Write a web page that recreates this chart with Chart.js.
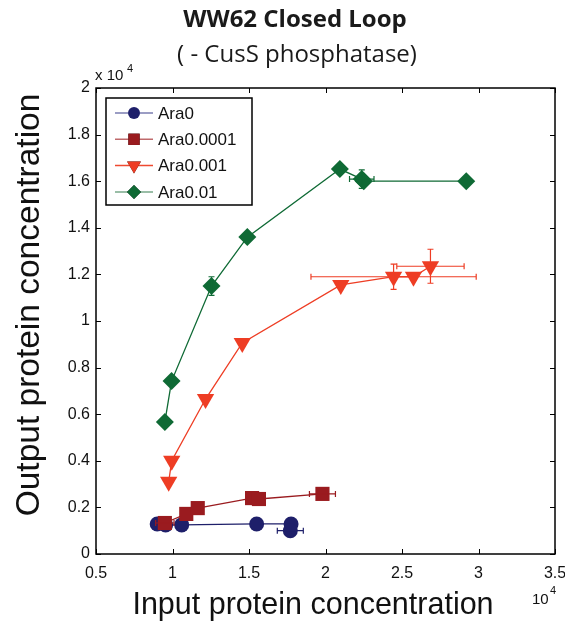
<!DOCTYPE html>
<html>
<head>
<meta charset="utf-8">
<script src="https://cdn.jsdelivr.net/npm/chart.js@4"></script>
<style>
  html, body { margin: 0; padding: 0; background: #fff; }
  #wrap { width: 565px; height: 629px; }
</style>
</head>
<body>
<div id="wrap"><canvas id="my-chart" width="565" height="629"></canvas></div>
<script>
// values in units of 10^4 (as shown on the axes)
const seriesNames = ['Ara0', 'Ara0.0001', 'Ara0.001', 'Ara0.01'];

const ara0X = [0.90, 0.955, 1.06, 1.55, 1.775, 1.77];
const ara0Y = [0.129, 0.125, 0.125, 0.129, 0.129, 0.10];
const ara0XErr = [0, 0, 0, 0, 0, 0.085];
const ara0YErr = [0, 0, 0, 0, 0, 0];

const ara00001X = [0.95, 1.09, 1.165, 1.52, 1.565, 1.98];
const ara00001Y = [0.133, 0.172, 0.197, 0.240, 0.236, 0.258];
const ara00001XErr = [0.06, 0, 0, 0, 0, 0.085];
const ara00001YErr = [0, 0, 0, 0, 0, 0];

const ara0001X = [0.975, 0.995, 1.216, 1.456, 2.10, 2.445, 2.575, 2.686];
const ara0001Y = [0.31, 0.40, 0.665, 0.906, 1.155, 1.19, 1.19, 1.235];
const ara0001XErr = [0, 0, 0, 0, 0, 0.54, 0, 0.22];
const ara0001YErr = [0, 0, 0, 0, 0, 0.054, 0, 0.073];

const ara001X = [0.95, 0.994, 1.255, 1.489, 2.094, 2.237, 2.25, 2.92];
const ara001Y = [0.567, 0.742, 1.150, 1.360, 1.652, 1.609, 1.60, 1.60];
const ara001XErr = [0, 0, 0, 0, 0, 0.08, 0, 0];
const ara001YErr = [0, 0, 0.04, 0, 0, 0.04, 0, 0];

const xTicks = [0.5, 1, 1.5, 2, 2.5, 3, 3.5];
const yTicks = [0, 0.2, 0.4, 0.6, 0.8, 1, 1.2, 1.4, 1.6, 1.8, 2];

const toPoints = (xs, ys) => xs.map((x, i) => ({ x: x, y: ys[i] }));

const FONT = '"Liberation Sans", Arial, sans-serif';
const TITLE_FONT = '"Open Sans", Lato, sans-serif';

// draw text centred at (cx, cy), font size picked so it is `width` wide
const fitText = (ctx, text, cx, cy, width, weight) => {
  ctx.font = weight + ' 20px ' + TITLE_FONT;
  const size = 20 * width / ctx.measureText(text).width;
  ctx.font = weight + ' ' + size.toFixed(1) + 'px ' + TITLE_FONT;
  ctx.fillText(text, cx, cy);
};

// draw the frame, inward ticks, error bars, legend and texts
const decorations = {
  id: 'decorations',
  afterDatasetsDraw(chart) {
    const ctx = chart.ctx;
    const xs = chart.scales.x;
    const ys = chart.scales.y;
    const a = chart.chartArea;

    // error bars
    chart.data.datasets.forEach(ds => {
      ctx.save();
      ctx.strokeStyle = ds.borderColor;
      ctx.lineWidth = 1.2;
      ds.data.forEach((p, i) => {
        const px = xs.getPixelForValue(p.x);
        const py = ys.getPixelForValue(p.y);
        const ex = ds.xErr[i];
        const ey = ds.yErr[i];
        ctx.beginPath();
        if (ex) {
          const l = xs.getPixelForValue(p.x - ex);
          const r = xs.getPixelForValue(p.x + ex);
          ctx.moveTo(l, py); ctx.lineTo(r, py);
          ctx.moveTo(l, py - 3); ctx.lineTo(l, py + 3);
          ctx.moveTo(r, py - 3); ctx.lineTo(r, py + 3);
        }
        if (ey) {
          const t = ys.getPixelForValue(p.y + ey);
          const b = ys.getPixelForValue(p.y - ey);
          ctx.moveTo(px, t); ctx.lineTo(px, b);
          ctx.moveTo(px - 3, t); ctx.lineTo(px + 3, t);
          ctx.moveTo(px - 3, b); ctx.lineTo(px + 3, b);
        }
        ctx.stroke();
      });
      ctx.restore();
    });

    ctx.save();
    // frame
    ctx.strokeStyle = '#000';
    ctx.lineWidth = 1.5;
    ctx.strokeRect(a.left, a.top, a.right - a.left, a.bottom - a.top);

    // inward ticks on all four sides
    ctx.lineWidth = 1;
    ctx.beginPath();
    xTicks.forEach(v => {
      const px = Math.round(xs.getPixelForValue(v)) + 0.5;
      ctx.moveTo(px, a.bottom); ctx.lineTo(px, a.bottom - 5);
      ctx.moveTo(px, a.top); ctx.lineTo(px, a.top + 5);
    });
    yTicks.forEach(v => {
      const py = Math.round(ys.getPixelForValue(v)) + 0.5;
      ctx.moveTo(a.left, py); ctx.lineTo(a.left + 5, py);
      ctx.moveTo(a.right, py); ctx.lineTo(a.right - 5, py);
    });
    ctx.stroke();

    // legend box
    const lx = 106, ly = 98, lw = 146, lh = 107;
    ctx.fillStyle = '#fff';
    ctx.fillRect(lx, ly, lw, lh);
    ctx.lineWidth = 1.5;
    ctx.strokeStyle = '#000';
    ctx.strokeRect(lx, ly, lw, lh);
    chart.data.datasets.forEach((ds, i) => {
      const yy = ly + 15 + i * 26.3;
      ctx.strokeStyle = ds.legendLine;
      ctx.lineWidth = 1.5;
      ctx.beginPath();
      ctx.moveTo(lx + 9, yy); ctx.lineTo(lx + 47, yy);
      ctx.stroke();
      Chart.helpers.drawPoint(ctx, {
        pointStyle: ds.pointStyle,
        rotation: ds.rotation || 0,
        radius: ds.legendRadius,
        borderWidth: 0
      }, lx + 28, yy);
      ctx.fillStyle = ds.backgroundColor;
      ctx.fill();
      ctx.fillStyle = '#111';
      ctx.font = '17px ' + FONT;
      ctx.textAlign = 'left';
      ctx.textBaseline = 'middle';
      ctx.fillText(ds.label, lx + 52, yy + 1);
    });

    // titles
    ctx.fillStyle = '#1a1a1a';
    ctx.textAlign = 'center';
    ctx.textBaseline = 'middle';
    fitText(ctx, 'WW62 Closed Loop', 295, 20, 224, 'bold');
    fitText(ctx, '( - CusS phosphatase)', 297, 55, 240, 'normal');

    // axis titles
    ctx.fillStyle = '#111';
    ctx.font = '30.5px ' + FONT;
    ctx.fillText('Input protein concentration', 313, 606);
    ctx.save();
    ctx.translate(30, 305);
    ctx.rotate(-Math.PI / 2);
    ctx.font = '33.5px ' + FONT;
    ctx.fillText('Output protein concentration', 0, 0);
    ctx.restore();

    // exponent labels
    ctx.textAlign = 'left';
    ctx.font = '15px ' + FONT;
    ctx.fillText('x 10', 95, 76);
    ctx.font = '11px ' + FONT;
    ctx.fillText('4', 127, 69);
    ctx.font = '15px ' + FONT;
    ctx.fillText('10', 532, 600);
    ctx.font = '11px ' + FONT;
    ctx.fillText('4', 550, 591);
    ctx.restore();
  }
};

const ctx = document.getElementById('my-chart').getContext('2d');

const myChart = new Chart(ctx, {
  type: 'scatter',
  data: {
    datasets: [
      {
        label: seriesNames[0],
        data: toPoints(ara0X, ara0Y),
        xErr: ara0XErr, yErr: ara0YErr,
        showLine: true,
        borderColor: '#1e1f6a',
        legendLine: '#7a7cb0',
        backgroundColor: '#1e1f6a',
        borderWidth: 1.3,
        pointStyle: 'circle',
        pointRadius: 7.5,
        legendRadius: 6,
        pointBorderWidth: 0,
        order: 4
      },
      {
        label: seriesNames[1],
        data: toPoints(ara00001X, ara00001Y),
        xErr: ara00001XErr, yErr: ara00001YErr,
        showLine: true,
        borderColor: '#9a1b1f',
        legendLine: '#bf6a6c',
        backgroundColor: '#9a1b1f',
        borderWidth: 1.3,
        pointStyle: 'rect',
        pointRadius: 10,
        legendRadius: 8,
        pointBorderWidth: 0,
        order: 3
      },
      {
        label: seriesNames[2],
        data: toPoints(ara0001X, ara0001Y),
        xErr: ara0001XErr, yErr: ara0001YErr,
        showLine: true,
        borderColor: '#ee3d24',
        legendLine: '#ef4a30',
        backgroundColor: '#ee3d24',
        borderWidth: 1.3,
        pointStyle: 'triangle',
        rotation: 180,
        pointRotation: 180,
        pointRadius: 10,
        legendRadius: 8,
        pointBorderWidth: 0,
        order: 2
      },
      {
        label: seriesNames[3],
        data: toPoints(ara001X, ara001Y),
        xErr: ara001XErr, yErr: ara001YErr,
        showLine: true,
        borderColor: '#0f6a35',
        legendLine: '#79a98a',
        backgroundColor: '#0f6a35',
        borderWidth: 1.3,
        pointStyle: 'rectRot',
        pointRadius: 9,
        legendRadius: 7,
        pointBorderWidth: 0,
        order: 1
      }
    ]
  },
  options: {
    responsive: false,
    animation: false,
    layout: { padding: { top: 88, right: 8, left: 0, bottom: 0 } },
    plugins: {
      legend: { display: false },
      tooltip: { enabled: false }
    },
    scales: {
      x: {
        type: 'linear',
        min: 0.5,
        max: 3.5,
        afterFit: (scale) => {
          scale.height = 75;
          scale.paddingLeft = 0;
          scale.paddingRight = 0;
        },
        afterBuildTicks: (scale) => { scale.ticks = xTicks.map(v => ({ value: v })); },
        grid: { display: false, drawTicks: false },
        border: { display: false },
        ticks: {
          color: '#111',
          padding: 10,
          maxRotation: 0,
          autoSkip: false,
          font: { family: FONT, size: 16 },
          callback: (v) => String(v)
        }
      },
      y: {
        type: 'linear',
        min: 0,
        max: 2,
        afterFit: (scale) => {
          scale.width = 96;
          scale.paddingTop = 0;
          scale.paddingBottom = 0;
        },
        afterBuildTicks: (scale) => { scale.ticks = yTicks.map(v => ({ value: v })); },
        grid: { display: false, drawTicks: false },
        border: { display: false },
        ticks: {
          color: '#111',
          padding: 6,
          autoSkip: false,
          font: { family: FONT, size: 16 },
          callback: (v) => String(Math.round(v * 10) / 10)
        }
      }
    }
  },
  plugins: [decorations]
});
</script>
</body>
</html>
